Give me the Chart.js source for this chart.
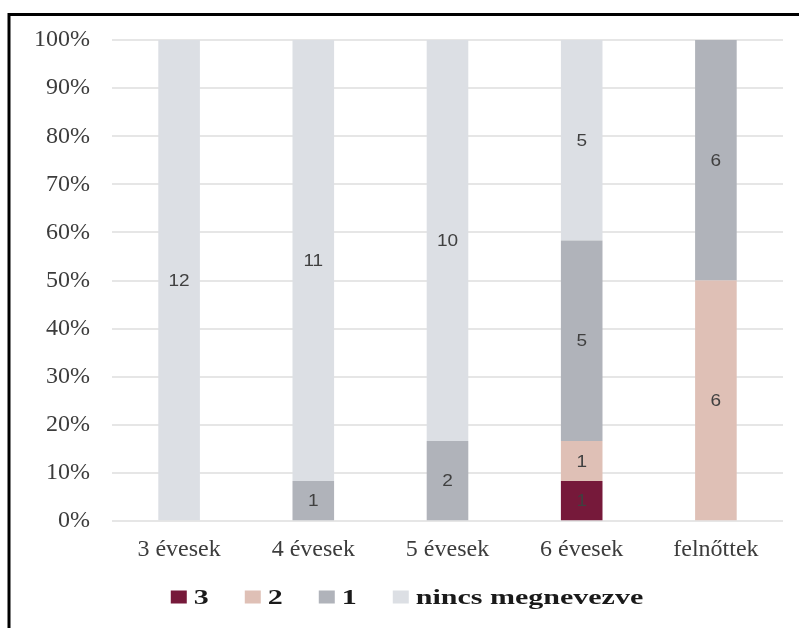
<!DOCTYPE html>
<html>
<head>
<meta charset="utf-8">
<script src="https://cdn.jsdelivr.net/npm/chart.js@4"></script>
<style>
html,body{margin:0;padding:0;background:#fff;}
#wrap{width:799px;height:628px;position:relative;}
</style>
</head>
<body>
<div id="wrap"><canvas id="c" width="799" height="628"></canvas></div>
<script>
const categories = ["3 évesek", "4 évesek", "5 évesek", "6 évesek", "felnőttek"];
const seriesNames = ["3", "2", "1", "nincs megnevezve"];
const s3 = [0, 0, 0, 1, 0];
const s2 = [0, 0, 0, 1, 6];
const s1 = [0, 1, 2, 5, 6];
const sNone = [12, 11, 10, 5, 0];
const yTicks = [0, 10, 20, 30, 40, 50, 60, 70, 80, 90, 100];
const colors = ["#76193a", "#dfc0b6", "#b0b3ba", "#dcdfe4"];

const counts = [s3, s2, s1, sNone];
const totals = categories.map((_, i) => counts.reduce((a, s) => a + s[i], 0));
const datasets = counts.map((s, k) => ({
  label: seriesNames[k],
  data: s.map((v, i) => v / totals[i] * 100),
  counts: s,
  backgroundColor: colors[k],
  borderWidth: 0,
  categoryPercentage: 1,
  barPercentage: 0.31
}));

const SERIF = '"Liberation Serif", "Times New Roman", serif';

const framePlugin = {
  id: 'frame',
  beforeDraw(chart) {
    const ctx = chart.ctx;
    ctx.save();
    ctx.fillStyle = '#fff';
    ctx.fillRect(0, 0, chart.width, chart.height);
    ctx.strokeStyle = '#000';
    ctx.lineWidth = 3;
    ctx.beginPath();
    ctx.moveTo(9, 640);
    ctx.lineTo(9, 14.5);
    ctx.lineTo(810, 14.5);
    ctx.stroke();
    ctx.restore();
  }
};

const labelPlugin = {
  id: 'valueLabels',
  afterDatasetsDraw(chart) {
    const ctx = chart.ctx;
    ctx.save();
    ctx.font = '17px "Liberation Sans", Arial, sans-serif';
    ctx.fillStyle = '#404040';
    ctx.textAlign = 'center';
    ctx.textBaseline = 'middle';
    chart.data.datasets.forEach((ds, di) => {
      const meta = chart.getDatasetMeta(di);
      meta.data.forEach((bar, i) => {
        const v = ds.counts[i];
        if (!v) return;
        const y = (bar.y + bar.base) / 2;
        ctx.save();
        ctx.translate(bar.x, y + 1);
        ctx.scale(1.12, 1);
        ctx.fillText(String(v), 0, 0);
        ctx.restore();
      });
    });
    ctx.restore();
  }
};

// custom legend, drawn below the axis (horizontally stretched like the reference)
const legendPlugin = {
  id: 'customLegend',
  afterDraw(chart) {
    const ctx = chart.ctx;
    const sx = 1.5, box = 16, boxH = 13, gapBox = 7, gapItem = 36, cy = 598;
    ctx.save();
    ctx.font = 'bold 20px ' + SERIF;
    ctx.textBaseline = 'middle';
    const items = chart.data.datasets.map(ds => ({
      label: ds.label, color: ds.backgroundColor,
      w: ctx.measureText(ds.label).width * sx
    }));
    let total = 0;
    items.forEach((it, i) => { total += box + gapBox + it.w + (i < items.length - 1 ? gapItem : 0); });
    let x = 407 - total / 2;
    items.forEach(it => {
      ctx.fillStyle = it.color;
      ctx.fillRect(x, cy - boxH / 2 - 1, box, boxH);
      x += box + gapBox;
      ctx.fillStyle = '#1a1a1a';
      ctx.save();
      ctx.translate(x, cy + 1);
      ctx.scale(sx, 1);
      ctx.fillText(it.label, 0, 0);
      ctx.restore();
      x += it.w + gapItem;
    });
    ctx.restore();
  }
};

new Chart(document.getElementById('c'), {
  type: 'bar',
  data: { labels: categories, datasets },
  options: {
    responsive: false,
    animation: false,
    layout: { padding: { left: 12, right: 16, top: 40, bottom: 50 } },
    plugins: {
      tooltip: { enabled: false },
      legend: { display: false }
    },
    scales: {
      x: {
        stacked: true,
        grid: { display: false, drawTicks: false },
        border: { display: false },
        ticks: {
          font: { family: SERIF, size: 24 },
          color: '#3c3c3c',
          padding: 14,
          maxRotation: 0
        }
      },
      y: {
        stacked: true,
        min: 0,
        max: 100,
        afterBuildTicks(axis) { axis.ticks = yTicks.map(v => ({ value: v })); },
        grid: { color: '#e6e6e6', lineWidth: 2, drawTicks: false },
        border: { display: false },
        ticks: {
          font: { family: SERIF, size: 24 },
          color: '#3c3c3c',
          padding: 22,
          callback: v => v + '%'
        }
      }
    }
  },
  plugins: [framePlugin, labelPlugin, legendPlugin]
});
</script>
</body>
</html>
